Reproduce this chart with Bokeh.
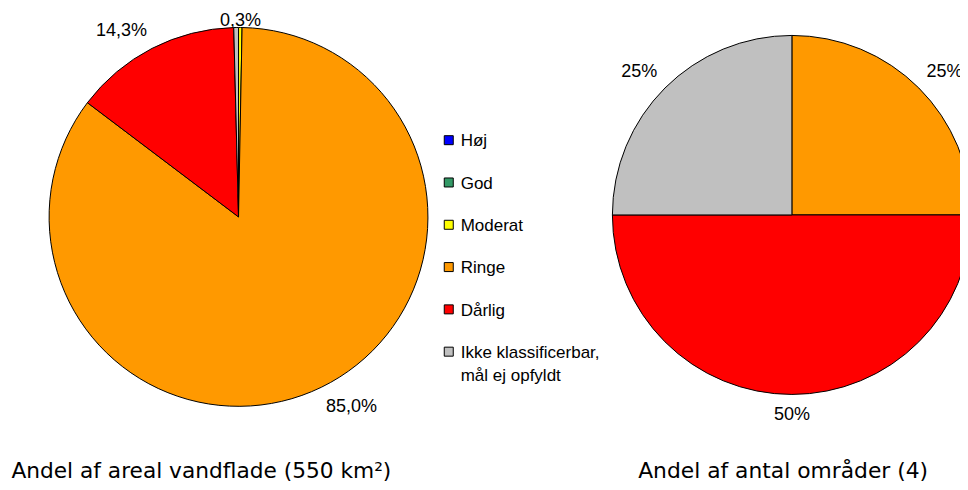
import math
from bokeh.plotting import figure
from bokeh.models import Range1d
from bokeh.core.properties import value
from bokeh.embed import file_html
from bokeh.resources import INLINE

# ---------------- data ----------------
categories = ["Høj", "God", "Moderat", "Ringe", "Dårlig", "Ikke klassificerbar,\nmål ej opfyldt"]
colors = ["#0000FF", "#339966", "#FFFF00", "#FF9900", "#FF0000", "#C0C0C0"]

# left pie: share of water area (percent)
area_pct = [0.0, 0.0, 0.3, 85.0, 14.3, 0.4]
area_show_label = [False, False, True, True, True, False]

# right pie: number of areas (4 in total)
area_counts = [0, 0, 0, 1, 2, 1]

title_left = "Andel af areal vandflade (550 km²)"
title_right = "Andel af antal områder (4)"

# ---------------- layout (styles) ----------------
W, H = 960, 482          # figure size in pixels
XW, YH = 968, 490        # coordinate frame of the chart
LABEL_FONT = value("Liberation Sans")
TITLE_FONT = value("DejaVu Sans")
LABEL_TOP_LIMIT = YH - 30   # keep data labels inside the chart area

p = figure(width=W, height=H, x_range=Range1d(0, XW), y_range=Range1d(0, YH),
           output_backend="svg", toolbar_location=None, min_border=0,
           x_axis_location=None, y_axis_location=None)
p.grid.visible = False
p.outline_line_color = None
p.background_fill_color = "white"
p.border_fill_color = "white"


def draw_pie(vals, cx, cy, r, fmt, show):
    total = float(sum(vals))
    cum = 0.0
    for v, col, sh in zip(vals, colors, show):
        a = cum / total
        b = (cum + v) / total
        cum += v
        if v <= 0:
            continue
        p.wedge(x=[cx], y=[cy], radius=r,
                start_angle=math.pi / 2 - 2 * math.pi * b,
                end_angle=math.pi / 2 - 2 * math.pi * a,
                direction="anticlock", fill_color=col,
                line_color="black", line_width=1)
        if not sh:
            continue
        m = (a + b) / 2
        th = math.pi / 2 - 2 * math.pi * m
        dx, dy = math.cos(th), math.sin(th)
        gap = 11
        lx, ly = cx + (r + gap) * dx, cy + (r + gap) * dy
        ly = min(ly, LABEL_TOP_LIMIT)
        align = "center" if abs(dx) < 0.2 else ("left" if dx > 0 else "right")
        base = "bottom" if dy > 0 else "top"
        p.text(x=[lx], y=[ly], text=[fmt(v / total * 100)],
               text_font=LABEL_FONT, text_font_size="18px",
               text_align=align, text_baseline=base, text_color="black")


draw_pie(area_pct, 240, 270, 191, lambda x: f"{x:.1f}%".replace(".", ","), area_show_label)
draw_pie(area_counts, 798, 272, 181, lambda x: f"{x:.0f}%", [c > 0 for c in area_counts])

# legend
leg_x, leg_top, leg_step = 452, 348, 43
for i, (cat, col) in enumerate(zip(categories, colors)):
    yy = leg_top - i * leg_step
    p.scatter(x=[leg_x], y=[yy], marker="square", size=9,
              fill_color=col, line_color="black", line_width=1)
    p.text(x=[leg_x + 12], y=[yy + 9], text=[cat], text_font=LABEL_FONT,
           text_font_size="17px", text_align="left", text_baseline="top",
           text_line_height=1.22, text_color="black")

# titles
p.text(x=[11], y=[12], text=[title_left], text_font=TITLE_FONT, text_font_size="21.7px",
       text_align="left", text_baseline="alphabetic", text_color="black")
p.text(x=[643], y=[12], text=[title_right], text_font=TITLE_FONT, text_font_size="21.8px",
       text_align="left", text_baseline="alphabetic", text_color="black")

open("out.html", "w").write(file_html(p, INLINE))
